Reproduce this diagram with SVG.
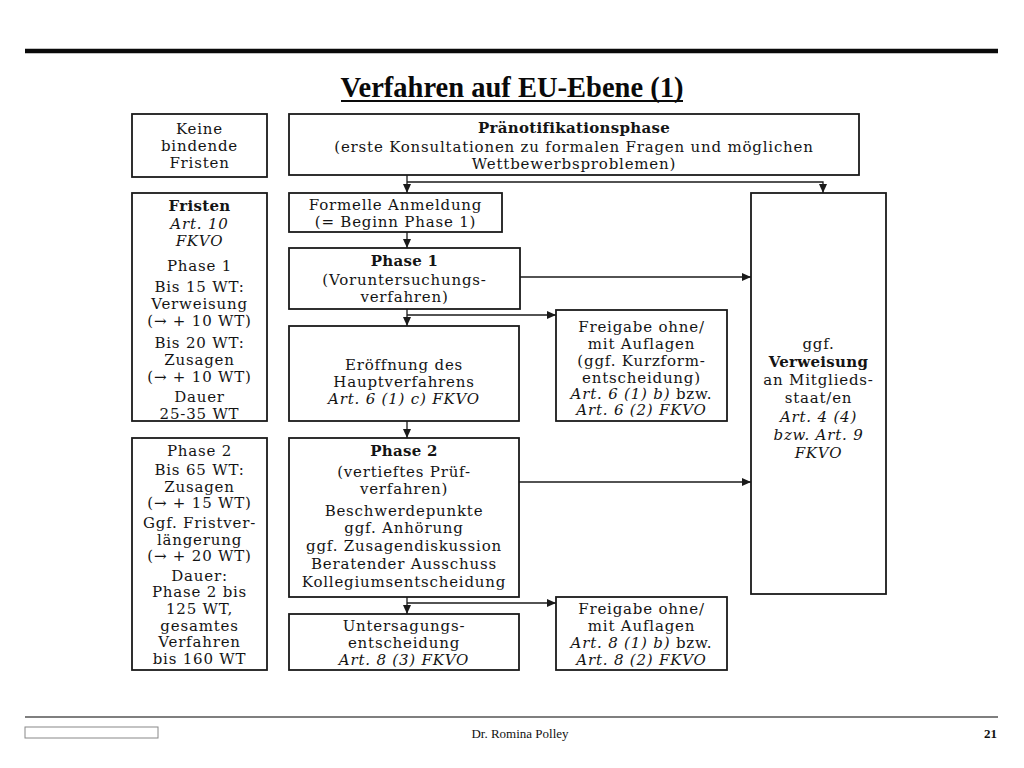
<svg xmlns="http://www.w3.org/2000/svg" width="1024" height="768" viewBox="0 0 1024 768">
<style>
  .box { fill: #ffffff; stroke: #1a1a1a; stroke-width: 1.8; }
  .t { font-family: "DejaVu Serif", "Liberation Serif", serif; font-size: 15px; letter-spacing: 0.8px; fill: #141414; text-anchor: middle; }
  .b { font-weight: bold; letter-spacing: 0.3px; }
  .i { font-style: italic; }
  .con { fill: none; stroke: #1a1a1a; stroke-width: 1.3; }
</style>
<defs>
  <marker id="arr" markerUnits="userSpaceOnUse" markerWidth="9" markerHeight="8" refX="9" refY="4" orient="auto">
    <path d="M0,0 L9,4 L0,8 z" fill="#1a1a1a"/>
  </marker>
</defs>
<rect width="1024" height="768" fill="#ffffff"/>

<!-- header -->
<line x1="25" y1="51" x2="998" y2="51" stroke="#0a0a0a" stroke-width="4.5"/>
<text x="512" y="97" font-family="Liberation Serif, serif" font-size="28.5" font-weight="bold" text-anchor="middle" fill="#0a0a0a">Verfahren auf EU-Ebene (1)</text>
<line x1="341" y1="101" x2="683" y2="101" stroke="#0a0a0a" stroke-width="2"/>

<!-- left column -->
<g id="keine-fristen">
  <rect class="box" x="132" y="114" width="135" height="63"/>
  <text class="t" x="199.5" y="134">Keine</text>
  <text class="t" x="199.5" y="151">bindende</text>
  <text class="t" x="199.5" y="168">Fristen</text>
</g>
<g id="fristen-phase1">
  <rect class="box" x="132" y="193" width="135" height="228"/>
  <text class="t b" x="199.5" y="211">Fristen</text>
  <text class="t i" x="199.5" y="229">Art. 10</text>
  <text class="t i" x="199.5" y="246">FKVO</text>
  <text class="t" x="199.5" y="271">Phase 1</text>
  <text class="t" x="199.5" y="292">Bis 15 WT:</text>
  <text class="t" x="199.5" y="309">Verweisung</text>
  <text class="t" x="199.5" y="326">(→ + 10 WT)</text>
  <text class="t" x="199.5" y="348">Bis 20 WT:</text>
  <text class="t" x="199.5" y="365">Zusagen</text>
  <text class="t" x="199.5" y="382">(→ + 10 WT)</text>
  <text class="t" x="199.5" y="402">Dauer</text>
  <text class="t" x="199.5" y="419">25-35 WT</text>
</g>
<g id="fristen-phase2">
  <rect class="box" x="132" y="438" width="135" height="232"/>
  <text class="t" x="199.5" y="455.5">Phase 2</text>
  <text class="t" x="199.5" y="475.1">Bis 65 WT:</text>
  <text class="t" x="199.5" y="491.7">Zusagen</text>
  <text class="t" x="199.5" y="508.3">(→ + 15 WT)</text>
  <text class="t" x="199.5" y="527.9">Ggf. Fristver-</text>
  <text class="t" x="199.5" y="544.5">längerung</text>
  <text class="t" x="199.5" y="561.1">(→ + 20 WT)</text>
  <text class="t" x="199.5" y="580.7">Dauer:</text>
  <text class="t" x="199.5" y="597.3">Phase 2 bis</text>
  <text class="t" x="199.5" y="613.9">125 WT,</text>
  <text class="t" x="199.5" y="630.5">gesamtes</text>
  <text class="t" x="199.5" y="647.1">Verfahren</text>
  <text class="t" x="199.5" y="663.7">bis 160 WT</text>
</g>

<!-- center column -->
<g id="praenotifikation">
  <rect class="box" x="289" y="114" width="570" height="61"/>
  <text class="t b" x="574" y="133">Pränotifikationsphase</text>
  <text class="t" x="574" y="152">(erste Konsultationen zu formalen Fragen und möglichen</text>
  <text class="t" x="574" y="169">Wettbewerbsproblemen)</text>
</g>
<g id="anmeldung">
  <rect class="box" x="289" y="193" width="213" height="39"/>
  <text class="t" x="395.5" y="210">Formelle Anmeldung</text>
  <text class="t" x="395.5" y="227">(= Beginn Phase 1)</text>
</g>
<g id="phase1">
  <rect class="box" x="289" y="248" width="231" height="61"/>
  <text class="t b" x="404.5" y="266">Phase 1</text>
  <text class="t" x="404.5" y="285">(Voruntersuchungs-</text>
  <text class="t" x="404.5" y="302">verfahren)</text>
</g>
<g id="eroeffnung">
  <rect class="box" x="289" y="326" width="230" height="95"/>
  <text class="t" x="404" y="370">Eröffnung des</text>
  <text class="t" x="404" y="387">Hauptverfahrens</text>
  <text class="t i" x="404" y="404">Art. 6 (1) c) FKVO</text>
</g>
<g id="phase2">
  <rect class="box" x="289" y="438" width="230" height="159"/>
  <text class="t b" x="404" y="456">Phase 2</text>
  <text class="t" x="404" y="477">(vertieftes Prüf-</text>
  <text class="t" x="404" y="494">verfahren)</text>
  <text class="t" x="404" y="516">Beschwerdepunkte</text>
  <text class="t" x="404" y="533">ggf. Anhörung</text>
  <text class="t" x="404" y="551">ggf. Zusagendiskussion</text>
  <text class="t" x="404" y="569">Beratender Ausschuss</text>
  <text class="t" x="404" y="587">Kollegiumsentscheidung</text>
</g>
<g id="untersagung">
  <rect class="box" x="289" y="614" width="230" height="56"/>
  <text class="t" x="404" y="631">Untersagungs-</text>
  <text class="t" x="404" y="648">entscheidung</text>
  <text class="t i" x="404" y="665">Art. 8 (3) FKVO</text>
</g>

<!-- right column -->
<g id="freigabe1">
  <rect class="box" x="556" y="310" width="171" height="111"/>
  <text class="t" x="641.5" y="332">Freigabe ohne/</text>
  <text class="t" x="641.5" y="349">mit Auflagen</text>
  <text class="t" x="641.5" y="366">(ggf. Kurzform-</text>
  <text class="t" x="641.5" y="383">entscheidung)</text>
  <text class="t" x="641.5" y="399"><tspan class="i">Art. 6 (1) b)</tspan> bzw.</text>
  <text class="t i" x="641.5" y="415">Art. 6 (2) FKVO</text>
</g>
<g id="freigabe2">
  <rect class="box" x="556" y="597" width="171" height="73"/>
  <text class="t" x="641.5" y="614">Freigabe ohne/</text>
  <text class="t" x="641.5" y="631">mit Auflagen</text>
  <text class="t" x="641.5" y="648"><tspan class="i">Art. 8 (1) b)</tspan> bzw.</text>
  <text class="t i" x="641.5" y="665">Art. 8 (2) FKVO</text>
</g>
<g id="verweisung">
  <rect class="box" x="751" y="193" width="135" height="401"/>
  <text class="t" x="818.5" y="349">ggf.</text>
  <text class="t b" x="818.5" y="367">Verweisung</text>
  <text class="t" x="818.5" y="385">an Mitglieds-</text>
  <text class="t" x="818.5" y="403">staat/en</text>
  <text class="t i" x="818.5" y="422">Art. 4 (4)</text>
  <text class="t i" x="818.5" y="440">bzw. Art. 9</text>
  <text class="t i" x="818.5" y="458">FKVO</text>
</g>

<!-- connectors -->
<g id="connectors">
  <path class="con" d="M407,175 V193" marker-end="url(#arr)"/>
  <path class="con" d="M407,182 H823 V193" marker-end="url(#arr)"/>
  <path class="con" d="M407,232 V248" marker-end="url(#arr)"/>
  <path class="con" d="M407,309 V326" marker-end="url(#arr)"/>
  <path class="con" d="M407,315 H556" marker-end="url(#arr)"/>
  <path class="con" d="M520,277 H751" marker-end="url(#arr)"/>
  <path class="con" d="M407,421 V438" marker-end="url(#arr)"/>
  <path class="con" d="M519,482 H751" marker-end="url(#arr)"/>
  <path class="con" d="M407,597 V614" marker-end="url(#arr)"/>
  <path class="con" d="M407,603 H556" marker-end="url(#arr)"/>
</g>

<!-- footer -->
<line x1="25" y1="717" x2="998" y2="717" stroke="#555555" stroke-width="1.5"/>
<rect x="25" y="727" width="133" height="11" fill="#ffffff" stroke="#888888" stroke-width="1"/>
<text x="520" y="738" font-family="Liberation Serif, serif" font-size="13" text-anchor="middle" fill="#111111">Dr. Romina Polley</text>
<text x="997" y="738" font-family="Liberation Serif, serif" font-size="13" font-weight="bold" text-anchor="end" fill="#111111">21</text>
</svg>
